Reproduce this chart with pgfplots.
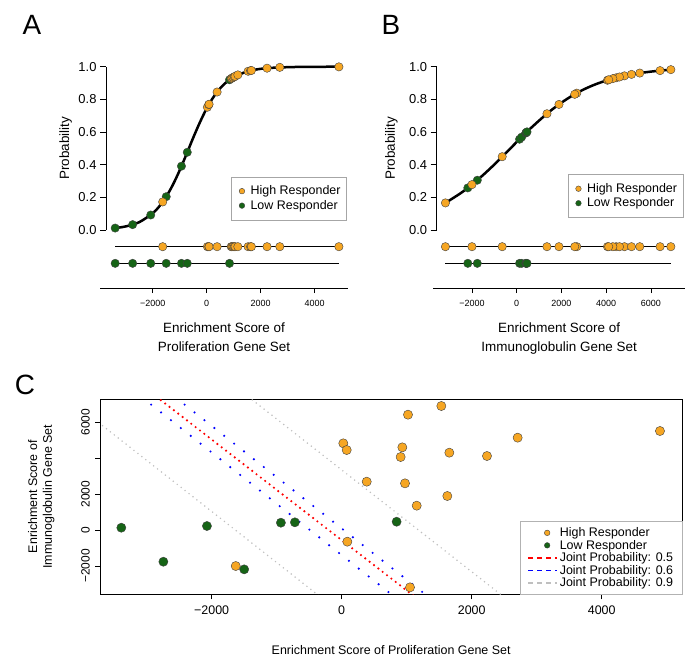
\documentclass[border=0pt]{standalone}
\usepackage{pgfplots}
\pgfplotsset{compat=1.18}
\usepackage{pgfplotstable}
\usepackage{fontspec}
\setmainfont{Liberation Sans}

\definecolor{hiR}{RGB}{246,166,35}
\definecolor{loR}{RGB}{22,100,22}

% prolif = proliferation score, immuno = immunoglobulin score
\pgfplotstableread{
prolif immuno pA pB row
-1630 -2000 0.172 0.278 -0.102
25 4815 0.752 0.944 -0.102
77 4444 0.768 0.932 -0.102
87 -648 0.770 0.449 -0.102
385 2685 0.845 0.838 -0.102
907 4056 0.927 0.917 -0.102
933 4593 0.930 0.937 -0.102
974 2593 0.934 0.831 -0.102
1020 6407 0.938 0.976 -0.102
1051 -3185 0.941 0.166 -0.102
1154 1352 0.950 0.712 -0.102
1533 6889 0.972 0.982 -0.102
1625 1889 0.976 0.769 -0.102
1656 4296 0.977 0.927 -0.102
2235 4111 0.991 0.920 -0.102
2707 5130 0.996 0.953 -0.102
4896 5500 0.999 0.961 -0.102
}\high

\pgfplotstableread{
prolif immuno pA pB row
-3390 128 0.012 0.556 -0.204
-2743 -1761 0.033 0.305 -0.204
-2073 222 0.092 0.569 -0.204
-1500 -2185 0.204 0.258 -0.204
-935 406 0.391 0.594 -0.204
-720 428 0.476 0.597 -0.204
845 461 0.920 0.601 -0.204
}\low

\pgfplotstableread{
x p
-3390 0.012
-3000 0.022
-2500 0.048
-2000 0.103
-1750 0.146
-1500 0.204
-1250 0.278
-1000 0.366
-750 0.464
-500 0.565
-250 0.660
0 0.745
250 0.814
500 0.868
750 0.908
1000 0.936
1500 0.971
2000 0.987
2500 0.994
3000 0.997
3500 0.999
4000 0.9995
4896 0.9999
}\curveA

\pgfplotstableread{
x p
-3185 0.166
-2500 0.226
-2000 0.278
-1500 0.337
-1000 0.401
-500 0.469
0 0.539
500 0.607
1000 0.670
1500 0.729
2000 0.780
2500 0.824
3000 0.861
3500 0.891
4000 0.915
4500 0.934
5000 0.949
5500 0.961
6000 0.970
6500 0.977
6889 0.982
}\curveB

\pgfplotsset{
  hi/.style={only marks, mark=*, mark size=4.2bp, mark options={fill=hiR, draw=black!75, line width=0.4bp}},
  lo/.style={only marks, mark=*, mark size=4.2bp, mark options={fill=loR, draw=black!75, line width=0.4bp}},
  hileg/.style={hi, mark size=2.8bp},
  loleg/.style={lo, mark size=2.8bp},
  smallimg/.style={legend image code/.code={
    \path[draw=none, fill=none] (0bp,-1bp) rectangle (13.2bp,1bp);
    \draw[##1] plot coordinates {(6.6bp,0bp)};}},
  cmarkimg/.style={legend image code/.code={
    \path[draw=none, fill=none] (0bp,-1bp) rectangle (29bp,1bp);
    \draw[##1] plot coordinates {(19bp,0bp)};}},
  clineimg/.style={legend image code/.code={\draw[##1] (0bp,0bp) -- (29bp,0bp);}},
  curvestrip/.style={
    scale only axis, height=221.3bp, ymin=-0.355, ymax=1, clip=false,
    hide y axis, axis x line*=bottom, x axis line style={-, line width=0.8bp},
    tick align=outside, major tick length=5bp, xtick style={black, line width=0.8bp},
    xtick={-2000,0,2000,4000,6000}, xticklabels={−2000,0,2000,4000,6000},
    xticklabel style={font=\fontsize{9}{10}\selectfont, yshift=-4bp},
    xlabel style={at={(axis description cs:0.5,-0.14)}, anchor=north, align=center, font=\fontsize{13.5}{19}\selectfont},
    legend style={anchor=north east, draw=gray!70, font=\fontsize{12.5}{14}\selectfont,
      inner xsep=4bp, inner ysep=7bp},
    legend cell align=left},
  probaxis/.style={
    scale only axis, width=10bp, height=163.3bp, xmin=0, xmax=1, ymin=0, ymax=1,
    hide x axis, axis y line*=left, y axis line style={-, line width=0.8bp},
    tick align=outside, major tick length=6bp, ytick style={black, line width=0.8bp},
    ytick={0,0.2,0.4,0.6,0.8,1}, yticklabels={0.0,0.2,0.4,0.6,0.8,1.0},
    yticklabel style={font=\fontsize{13}{14}\selectfont},
    ylabel={Probability},
    ylabel style={anchor=south, font=\fontsize{13.5}{15}\selectfont}}
}

\begin{document}
\begin{tikzpicture}[x=1bp,y=1bp]
\useasboundingbox (0,0) rectangle (697,-658);
\node[font=\fontsize{28}{30}\selectfont] at (32,-25) {A};
\node[font=\fontsize{28}{30}\selectfont] at (391,-25) {B};
\node[font=\fontsize{28}{30}\selectfont] at (25,-385) {C};

% ---- A
\begin{axis}[curvestrip, width=248bp, at={(100bp,-288bp)}, anchor=south west,
  xmin=-3952, xmax=5233,
  xlabel={Enrichment Score of\\Proliferation Gene Set},
  legend style={at={(rel axis cs:0.995,0.503)}}]
\addlegendimage{hileg, smallimg}\addlegendentry{High Responder}
\addlegendimage{loleg, smallimg}\addlegendentry{Low Responder}
\addplot[black, line width=2.5bp, smooth, forget plot] table[x=x, y=p] {\curveA};
\addplot[black, line width=0.8bp, forget plot] coordinates {(-3390,-0.102) (4896,-0.102)};
\addplot[black, line width=0.8bp, forget plot] coordinates {(-3390,-0.204) (4896,-0.204)};
\addplot[lo, forget plot] table[x=prolif, y=pA] {\low};
\addplot[hi, forget plot] table[x=prolif, y=pA] {\high};
\addplot[hi, forget plot] table[x=prolif, y=row] {\high};
\addplot[lo, forget plot] table[x=prolif, y=row] {\low};
\end{axis}
\begin{axis}[probaxis, at={(106bp,-230bp)}, anchor=south west,
  ylabel style={at={(axis description cs:-3.05,0.5)}}]
\end{axis}

% ---- B
\begin{axis}[curvestrip, width=251.7bp, at={(433.3bp,-288bp)}, anchor=south west,
  xmin=-3727, xmax=7522,
  xlabel={Enrichment Score of\\Immunoglobulin Gene Set},
  legend style={at={(rel axis cs:0.993,0.514)}}]
\addlegendimage{hileg, smallimg}\addlegendentry{High Responder}
\addlegendimage{loleg, smallimg}\addlegendentry{Low Responder}
\addplot[black, line width=2.5bp, smooth, forget plot] table[x=x, y=p] {\curveB};
\addplot[black, line width=0.8bp, forget plot] coordinates {(-3185,-0.102) (6889,-0.102)};
\addplot[black, line width=0.8bp, forget plot] coordinates {(-3185,-0.204) (6889,-0.204)};
\addplot[lo, forget plot] table[x=immuno, y=pB] {\low};
\addplot[hi, forget plot] table[x=immuno, y=pB] {\high};
\addplot[hi, forget plot] table[x=immuno, y=row] {\high};
\addplot[lo, forget plot] table[x=immuno, y=row] {\low};
\end{axis}
\begin{axis}[probaxis, at={(436.7bp,-230bp)}, anchor=south west,
  ylabel style={at={(axis description cs:-3.55,0.5)}}]
\end{axis}

% ---- C
\begin{axis}[scale only axis, width=582.3bp, height=195.3bp, at={(100bp,-594.3bp)}, anchor=south west,
  xmin=-3718, xmax=5240, ymin=-3572, ymax=7278,
  axis line style={line width=0.8bp}, tick pos=left, tick align=outside, major tick length=5bp,
  tick style={black, line width=0.8bp},
  xtick={-2000,0,2000,4000}, xticklabels={−2000,0,2000,4000},
  ytick={-2000,0,2000,4000,6000}, yticklabels={−2000,0,2000,,6000},
  xticklabel style={font=\fontsize{12.5}{13}\selectfont, yshift=-3bp},
  yticklabel style={rotate=90, anchor=south, inner ysep=5bp, font=\fontsize{12}{13}\selectfont},
  xlabel={Enrichment Score of Proliferation Gene Set},
  xlabel style={at={(axis description cs:0.5,-0.244)}, anchor=north, font=\fontsize{12.5}{15}\selectfont},
  ylabel={Enrichment Score of\\Immunoglobulin Gene Set},
  ylabel style={at={(axis description cs:-0.072,0.5)}, anchor=south, align=center, font=\fontsize{12.5}{15}\selectfont},
  legend style={at={(rel axis cs:1,0)}, anchor=south east, draw=gray!60, fill=white,
    font=\fontsize{12.5}{13.5}\selectfont, row sep=-2bp, inner xsep=7bp, inner ysep=4bp},
  legend cell align=left]
\addlegendimage{hileg, cmarkimg}\addlegendentry{High Responder}
\addlegendimage{loleg, cmarkimg}\addlegendentry{Low Responder}
\addlegendimage{red, line width=1.3bp, dash pattern=on 5bp off 4bp, clineimg}\addlegendentry{Joint Probability: 0.5}
\addlegendimage{blue, line width=1.3bp, dash pattern=on 5bp off 4bp, clineimg}\addlegendentry{Joint Probability: 0.6}
\addlegendimage{gray!50, line width=1.3bp, dash pattern=on 5bp off 4bp, clineimg}\addlegendentry{Joint Probability: 0.9}
\addplot[gray!50, line width=1.7bp, line cap=round, dash pattern=on 0bp off 5bp, forget plot] coordinates {(-3800,6140) (-333,-3700)};
\addplot[gray!50, line width=1.7bp, line cap=round, dash pattern=on 0bp off 5bp, forget plot] coordinates {(-1436,7400) (2489,-3700)};
\addplot[blue, line width=2.4bp, line cap=round, dash pattern=on 0bp off 12.6bp, forget plot] coordinates {(-3083,7400) (808,-3700)};
\addplot[blue, line width=2.4bp, line cap=round, dash pattern=on 0bp off 12.6bp, forget plot] coordinates {(-2568,7400) (1330,-3700)};
\addplot[red, line width=2.4bp, line cap=round, dash pattern=on 0bp off 5.5bp, forget plot] coordinates {(-2849,7400) (1122,-3700)};
\addplot[hi, mark size=4.6bp, forget plot] table[x=prolif, y=immuno] {\high};
\addplot[lo, mark size=4.6bp, forget plot] table[x=prolif, y=immuno] {\low};
\end{axis}
\end{tikzpicture}
\end{document}
